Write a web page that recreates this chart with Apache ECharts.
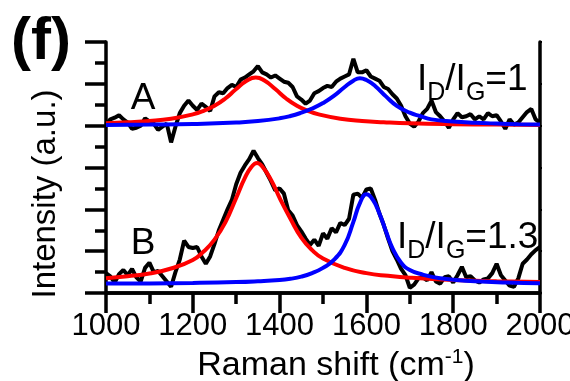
<!DOCTYPE html>
<html>
<head>
<meta charset="utf-8">
<script src="https://cdn.jsdelivr.net/npm/echarts@6/dist/echarts.min.js"></script>
<style>
  html, body { margin: 0; padding: 0; background: #fff; }
  #chart { width: 570px; height: 381px; }
</style>
</head>
<body>
<div id="chart"></div>
<script>
// measured spectra, shared shift grid (cm-1)
const shift = [
  1000, 1010, 1020, 1030, 1040, 1050, 1060, 1070, 1080, 1090,
  1100, 1110, 1120, 1130, 1140, 1150, 1160, 1170, 1180, 1190,
  1200, 1210, 1220, 1230, 1240, 1250, 1260, 1270, 1280, 1290,
  1300, 1310, 1320, 1330, 1340, 1350, 1360, 1370, 1380, 1390,
  1400, 1410, 1420, 1430, 1440, 1450, 1460, 1470, 1480, 1490,
  1500, 1510, 1520, 1530, 1540, 1550, 1560, 1570, 1580, 1590,
  1600, 1610, 1620, 1630, 1640, 1650, 1660, 1670, 1680, 1690,
  1700, 1710, 1720, 1730, 1740, 1750, 1760, 1770, 1780, 1790,
  1800, 1810, 1820, 1830, 1840, 1850, 1860, 1870, 1880, 1890,
  1900, 1910, 1920, 1930, 1940, 1950, 1960, 1970, 1980, 1990, 2000
]
const spectrumA = [
  8.05, 8.30, 8.38, 8.50, 8.30, 8.15, 7.85, 7.90, 8.00, 8.35,
  8.20, 8.10, 7.80, 7.95, 8.10, 7.20, 7.95, 8.60, 8.95, 9.20,
  8.95, 8.75, 9.05, 8.90, 8.70, 9.40, 9.60, 9.55, 9.80, 9.95,
  9.85, 10.20, 10.30, 10.45, 10.60, 10.85, 10.55, 10.45, 10.30, 10.40,
  10.25, 10.10, 10.05, 9.85, 9.40, 9.25, 9.05, 9.20, 9.55, 9.65,
  9.80, 9.90, 9.85, 10.10, 10.25, 10.35, 10.45, 11.20, 10.55, 10.55,
  10.65, 10.35, 10.25, 10.15, 9.85, 9.75, 9.50, 9.30, 8.95, 8.45,
  8.10, 7.95, 8.20, 8.60, 8.80, 9.20, 8.65, 8.45, 8.20, 7.90,
  8.30, 8.60, 8.40, 8.45, 8.55, 8.30, 8.45, 8.30, 8.60, 8.45,
  8.50, 8.20, 7.85, 8.30, 8.05, 8.15, 8.40, 8.65, 8.80, 8.30, 8.15
]
const spectrumB = [
  0.95, 0.80, 0.50, 0.90, 1.10, 0.85, 1.15, 0.75, 0.55, 1.20,
  1.45, 1.00, 1.05, 0.80, 0.55, 0.30, 1.00, 1.60, 2.50, 2.20,
  2.15, 2.20, 1.75, 1.40, 1.75, 2.35, 3.00, 3.50, 4.00, 4.45,
  5.20, 5.75, 6.10, 6.40, 6.80, 6.45, 6.15, 5.75, 5.35, 4.90,
  5.00, 4.75, 3.95, 3.70, 3.25, 2.95, 2.60, 2.30, 2.55, 2.25,
  2.85, 2.60, 3.10, 2.90, 3.35, 3.25, 3.55, 4.70, 4.75, 4.55,
  4.95, 5.00, 4.45, 3.80, 3.25, 2.60, 2.00, 1.60, 1.15, 0.85,
  0.25, 0.40, 0.70, 0.75, 0.60, 1.00, 0.55, 0.45, 0.75, 0.80,
  0.50, 0.85, 1.25, 0.75, 0.80, 0.60, 0.50, 0.65, 0.70, 0.95,
  1.40, 0.85, 0.60, 0.35, 0.30, 0.70, 1.40, 1.60, 1.85, 2.05, 2.20
]

// fitted D (red) and G (blue) bands
const fitDA_x = [1000, 1050, 1100, 1150, 1200, 1225, 1250, 1275, 1300, 1325, 1345, 1365, 1390, 1415, 1440, 1465, 1490, 1540, 1590, 1640, 1700, 1800, 1900, 2000]
const fitDA_y = [8.12, 8.16, 8.22, 8.33, 8.54, 8.71, 8.95, 9.30, 9.75, 10.16, 10.30, 10.16, 9.75, 9.30, 8.95, 8.71, 8.54, 8.33, 8.22, 8.16, 8.11, 8.07, 8.05, 8.03]
const fitGA_x = [1000, 1100, 1200, 1300, 1350, 1400, 1425, 1450, 1475, 1500, 1525, 1550, 1570, 1585, 1600, 1620, 1645, 1670, 1700, 1725, 1750, 1800, 1850, 1900, 1950, 2000]
const fitGA_y = [8.03, 8.05, 8.08, 8.15, 8.22, 8.35, 8.46, 8.62, 8.82, 9.08, 9.42, 9.85, 10.15, 10.27, 10.18, 9.90, 9.40, 8.95, 8.62, 8.45, 8.30, 8.20, 8.14, 8.10, 8.07, 8.05]
const fitDB_x = [1000, 1050, 1100, 1150, 1200, 1225, 1250, 1275, 1300, 1320, 1335, 1348, 1360, 1380, 1400, 1425, 1450, 1475, 1500, 1550, 1600, 1650, 1700, 1800, 1900, 2000]
const fitDB_y = [0.71, 0.80, 0.93, 1.17, 1.58, 1.98, 2.55, 3.38, 4.55, 5.50, 6.02, 6.22, 6.05, 5.42, 4.55, 3.55, 2.65, 2.05, 1.65, 1.20, 0.95, 0.82, 0.73, 0.62, 0.56, 0.52]
const fitGB_x = [1000, 1100, 1200, 1300, 1350, 1400, 1425, 1450, 1475, 1500, 1525, 1550, 1570, 1585, 1600, 1615, 1630, 1645, 1660, 1680, 1700, 1730, 1770, 1850, 1925, 2000]
const fitGB_y = [0.45, 0.46, 0.48, 0.52, 0.56, 0.62, 0.68, 0.78, 0.95, 1.20, 1.58, 2.30, 3.40, 4.30, 4.72, 4.45, 3.80, 2.95, 2.15, 1.45, 1.10, 0.88, 0.70, 0.56, 0.50, 0.47]

const FONT = '"Liberation Sans", Arial, sans-serif'
const zip = (xs, ys) => xs.map((x, i) => [x, ys[i]])

const chart = echarts.init(document.getElementById('chart'))

function line(name, xs, ys, color, smooth) {
  return {
    name,
    type: 'line',
    data: zip(xs, ys),
    symbol: 'none',
    smooth: smooth,
    lineStyle: { color, width: 4 },
    silent: true,
  }
}

const axisLine = { lineStyle: { color: '#000', width: 3.5 } }
const tickStyle = { width: 3.5, color: '#000' }

chart.setOption({
  backgroundColor: '#fff',
  animation: false,
  grid: { left: 106, right: 30, top: 42, bottom: 88, outerBoundsMode: 'none', containLabel: false },
  xAxis: [
    {
      type: 'value',
      min: 1000,
      max: 2000,
      interval: 200,
      axisLine,
      axisTick: { length: 16, lineStyle: tickStyle },
      minorTick: { show: true, splitNumber: 2, length: 10, lineStyle: tickStyle },
      axisLabel: { color: '#000', fontSize: 31, fontFamily: FONT, margin: 18, formatter: v => String(v) },
      splitLine: { show: false },
    },
    {
      type: 'value',
      position: 'top',
      min: 1000,
      max: 2000,
      interval: 200,
      axisLine,
      axisTick: { inside: true, length: 20, lineStyle: tickStyle },
      minorTick: { show: true, splitNumber: 2, length: 11, lineStyle: tickStyle },
      axisLabel: { show: false },
      splitLine: { show: false },
    },
  ],
  yAxis: [
    {
      type: 'value',
      min: 0,
      max: 12,
      interval: 2,
      axisLine,
      axisTick: { length: 21, lineStyle: tickStyle },
      minorTick: { show: true, splitNumber: 2, length: 11, lineStyle: tickStyle },
      axisLabel: { show: false },
      splitLine: { show: false },
    },
    {
      type: 'value',
      position: 'right',
      min: 0,
      max: 12,
      interval: 2,
      axisLine,
      axisTick: { length: 2, lineStyle: { width: 2, color: '#000' } },
      axisLabel: { show: false },
      splitLine: { show: false },
    },
  ],
  series: [
    line('A', shift, spectrumA, '#000', false),
    line('B', shift, spectrumB, '#000', false),
    line('D fit A', fitDA_x, fitDA_y, '#ff0000', 0.5),
    line('D fit B', fitDB_x, fitDB_y, '#ff0000', 0.5),
    line('G fit A', fitGA_x, fitGA_y, '#0000ff', 0.5),
    line('G fit B', fitGB_x, fitGB_y, '#0000ff', 0.5),
  ],
  graphic: [
    {
      type: 'text', x: 11, y: 42,
      style: { text: '(f)', font: 'bold 60px ' + FONT, fill: '#000', textVerticalAlign: 'middle' },
    },
    {
      type: 'text', x: 143, y: 99,
      style: { text: 'A', font: '37px ' + FONT, fill: '#000', textAlign: 'center', textVerticalAlign: 'middle' },
    },
    {
      type: 'text', x: 143, y: 244,
      style: { text: 'B', font: '37px ' + FONT, fill: '#000', textAlign: 'center', textVerticalAlign: 'middle' },
    },
    {
      type: 'text', x: 417, y: 80,
      style: {
        text: '{m|I}{s|D}{m|/I}{s|G}{m|=1}',
        textVerticalAlign: 'middle',
        rich: {
          m: { fontSize: 37, fontFamily: FONT, color: '#000', lineHeight: 52 },
          s: { fontSize: 25, fontFamily: FONT, color: '#000', lineHeight: 25, padding: [27, 0, 0, 0] },
        },
      },
    },
    {
      type: 'text', x: 397, y: 238,
      style: {
        text: '{m|I}{s|D}{m|/I}{s|G}{m|=1.3}',
        textVerticalAlign: 'middle',
        rich: {
          m: { fontSize: 37, fontFamily: FONT, color: '#000', lineHeight: 52 },
          s: { fontSize: 25, fontFamily: FONT, color: '#000', lineHeight: 25, padding: [27, 0, 0, 0] },
        },
      },
    },
    {
      type: 'text', x: 46, y: 194, rotation: Math.PI / 2,
      style: { text: 'Intensity (a.u.)', font: '33px ' + FONT, fill: '#000', textAlign: 'center', textVerticalAlign: 'middle' },
    },
    {
      type: 'text', x: 336, y: 366,
      style: {
        text: '{m|Raman shift (cm}{p|-1}{m|)}',
        textAlign: 'center',
        textVerticalAlign: 'middle',
        rich: {
          m: { fontSize: 34, fontFamily: FONT, color: '#000', lineHeight: 38 },
          p: { fontSize: 21, fontFamily: FONT, color: '#000', lineHeight: 21, padding: [0, 0, 17, 0] },
        },
      },
    },
  ],
})
</script>
</body>
</html>
